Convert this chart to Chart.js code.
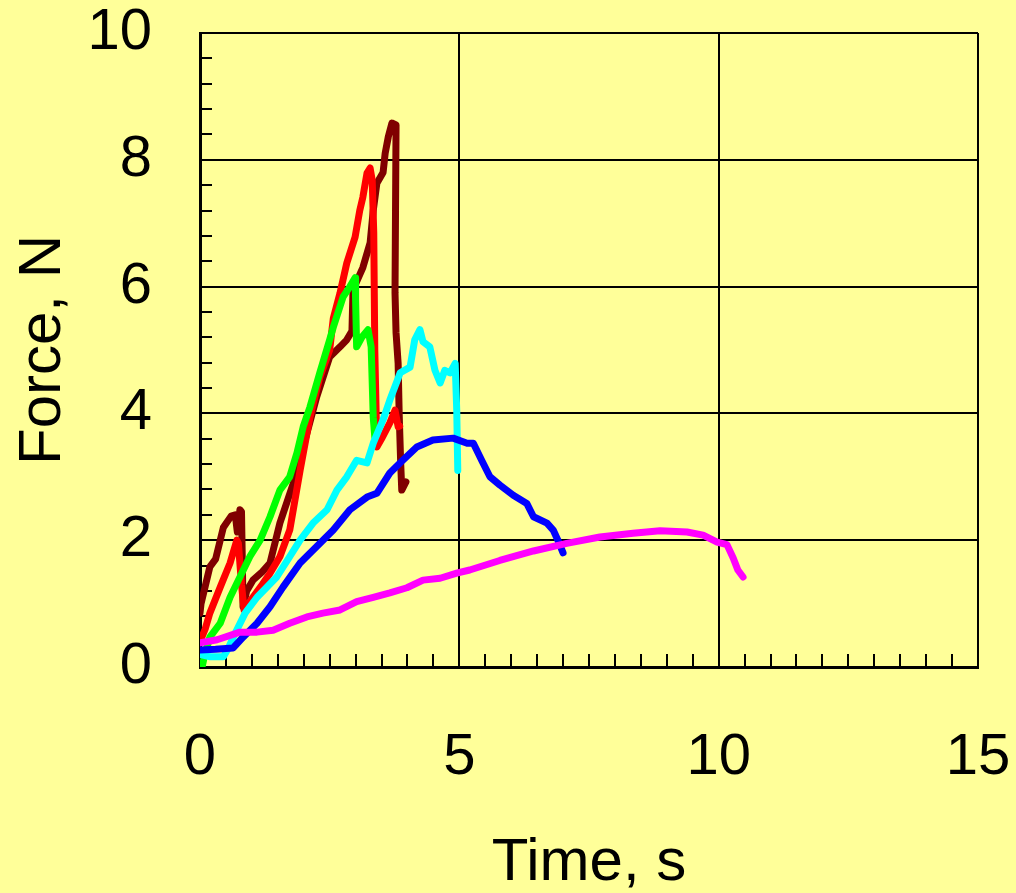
<!DOCTYPE html>
<html>
<head>
<meta charset="utf-8">
<script src="https://cdn.jsdelivr.net/npm/chart.js@4.4.1/dist/chart.umd.min.js"></script>
<style>
  html, body { margin: 0; padding: 0; background: #FFFF99; }
  #c { display: block; }
</style>
</head>
<body>
<canvas id="c" width="1016" height="893"></canvas>
<script>
// ---- Data ----
const xTickLabels = [0, 5, 10, 15];
const yTickLabels = [0, 2, 4, 6, 8, 10];

const brownTime  = [0, 0.02, 0.19, 0.3, 0.45, 0.6, 0.68, 0.72, 0.77, 0.8, 0.83, 0.9, 1.02, 1.2, 1.35, 1.54, 1.8, 1.99, 2.25, 2.5, 2.7, 2.83, 2.93, 2.95, 3.14, 3.28, 3.34, 3.41, 3.53, 3.57, 3.63, 3.7, 3.78, 3.76, 3.78, 3.82, 3.84, 3.87, 3.89, 3.97];
const brownForce = [0.85, 1.0, 1.58, 1.7, 2.2, 2.38, 2.4, 2.13, 2.48, 2.45, 0.95, 1.2, 1.37, 1.5, 1.64, 2.27, 2.9, 3.47, 4.26, 4.89, 5.05, 5.16, 5.3, 5.95, 6.3, 6.69, 7.2, 7.63, 7.8, 8.1, 8.36, 8.58, 8.55, 5.9, 5.27, 4.79, 4.0, 3.2, 2.79, 2.92];

const redTime  = [0, 0.1, 0.19, 0.39, 0.58, 0.71, 0.74, 0.8, 0.85, 1.02, 1.2, 1.35, 1.54, 1.73, 1.93, 2.12, 2.31, 2.5, 2.57, 2.7, 2.83, 2.99, 3.08, 3.14, 3.22, 3.28, 3.32, 3.35, 3.37, 3.41, 3.5, 3.66, 3.76, 3.82, 3.85];
const redForce = [0.4, 0.6, 0.85, 1.26, 1.64, 2.0, 1.95, 1.3, 0.9, 1.1, 1.3, 1.48, 1.74, 2.16, 3.1, 3.94, 4.57, 5.0, 5.5, 5.9, 6.37, 6.78, 7.2, 7.41, 7.79, 7.87, 7.68, 6.85, 5.0, 3.47, 3.6, 3.85, 4.05, 3.79, 3.8];

const greenTime  = [0.04, 0.08, 0.19, 0.39, 0.58, 0.77, 0.96, 1.16, 1.35, 1.54, 1.73, 1.87, 1.99, 2.12, 2.31, 2.5, 2.57, 2.76, 2.89, 2.99, 3.0, 3.02, 3.12, 3.24, 3.3, 3.34, 3.37];
const greenForce = [0.0, 0.15, 0.47, 0.69, 1.1, 1.42, 1.74, 2.0, 2.37, 2.79, 3.0, 3.38, 3.79, 4.1, 4.64, 5.16, 5.36, 5.84, 6.0, 6.14, 5.79, 5.05, 5.2, 5.32, 5.05, 3.94, 3.63];

const cyanTime  = [0, 0.2, 0.45, 0.55, 0.64, 0.87, 1.1, 1.48, 1.73, 1.93, 2.18, 2.45, 2.64, 2.83, 3.02, 3.22, 3.34, 3.53, 3.66, 3.86, 4.05, 4.14, 4.24, 4.3, 4.43, 4.53, 4.63, 4.72, 4.82, 4.92, 4.95, 4.97];
const cyanForce = [0.2, 0.16, 0.16, 0.3, 0.47, 0.85, 1.1, 1.42, 1.74, 2.0, 2.27, 2.48, 2.79, 3.0, 3.26, 3.22, 3.53, 3.9, 4.21, 4.64, 4.73, 5.16, 5.32, 5.13, 5.05, 4.68, 4.48, 4.68, 4.64, 4.79, 4.05, 3.1];

const blueTime  = [0, 0.3, 0.64, 0.83, 1.1, 1.35, 1.6, 1.93, 2.25, 2.57, 2.89, 3.22, 3.41, 3.66, 3.91, 4.18, 4.49, 4.88, 5.15, 5.27, 5.43, 5.59, 5.78, 6.04, 6.3, 6.43, 6.69, 6.81, 6.9, 7.0];
const blueForce = [0.27, 0.28, 0.3, 0.47, 0.69, 0.95, 1.26, 1.64, 1.9, 2.16, 2.48, 2.68, 2.74, 3.06, 3.26, 3.47, 3.58, 3.61, 3.53, 3.53, 3.26, 3.0, 2.87, 2.71, 2.58, 2.37, 2.27, 2.16, 2.0, 1.8];

const magentaTime  = [0, 0.33, 0.77, 1.1, 1.41, 1.73, 2.06, 2.37, 2.7, 3.02, 3.34, 3.66, 3.99, 4.3, 4.63, 4.95, 5.2, 5.78, 6.43, 7.07, 7.71, 8.35, 8.87, 9.39, 9.7, 9.97, 10.16, 10.28, 10.37, 10.47];
const magentaForce = [0.38, 0.43, 0.55, 0.55, 0.58, 0.69, 0.79, 0.85, 0.9, 1.03, 1.1, 1.17, 1.25, 1.37, 1.4, 1.48, 1.53, 1.68, 1.83, 1.95, 2.05, 2.11, 2.15, 2.13, 2.08, 1.97, 1.93, 1.72, 1.53, 1.42];

const minorXStep = 0.5;
const minorYStep = 0.4;

// ---- Build chart ----
const FONT = "'Liberation Sans', Arial, sans-serif";
function pts(t, f) { return t.map((v, i) => ({ x: v, y: f[i] })); }
function ds(t, f, color) {
  return {
    data: pts(t, f), borderColor: color, backgroundColor: color,
    borderWidth: 7, pointRadius: 0, showLine: true, tension: 0,
    borderJoinStyle: 'round', borderCapStyle: 'round', fill: false
  };
}

const minorTicks = {
  id: 'minorTicks',
  beforeDatasetsDraw(chart) {
    const { ctx, scales: { x, y }, chartArea } = chart;
    ctx.save();
    ctx.strokeStyle = '#000';
    ctx.lineWidth = 2;
    ctx.beginPath();
    for (let v = x.min + minorXStep; v < x.max - 1e-9; v += minorXStep) {
      const px = Math.round(x.getPixelForValue(v));
      ctx.moveTo(px, chartArea.bottom);
      ctx.lineTo(px, chartArea.bottom - 13);
    }
    for (let v = y.min + minorYStep; v < y.max - 1e-9; v += minorYStep) {
      const py = Math.round(y.getPixelForValue(v));
      ctx.moveTo(chartArea.left, py);
      ctx.lineTo(chartArea.left + 12, py);
    }
    ctx.stroke();
    ctx.restore();
  }
};

new Chart(document.getElementById('c'), {
  type: 'scatter',
  data: {
    datasets: [
      ds(magentaTime, magentaForce, '#FF00FF'),
      ds(blueTime, blueForce, '#0000FF'),
      ds(cyanTime, cyanForce, '#00FFFF'),
      ds(greenTime, greenForce, '#00FF00'),
      ds(redTime, redForce, '#FF0000'),
      ds(brownTime, brownForce, '#800000')
    ]
  },
  options: {
    responsive: false,
    animation: false,
    devicePixelRatio: 1,
    layout: { padding: { top: 33, right: 38, left: 0, bottom: 0 } },
    plugins: { legend: { display: false }, tooltip: { enabled: false } },
    scales: {
      x: {
        type: 'linear', min: 0, max: 15,
        afterBuildTicks(s) { s.ticks = xTickLabels.map(v => ({ value: v })); },
        ticks: { color: '#000', font: { family: FONT, size: 58, lineHeight: 1.0 }, padding: 62, maxRotation: 0, autoSkip: false },
        grid: { color: '#000', lineWidth: 2, drawTicks: false },
        border: { color: '#000', width: 3 },
        title: { display: true, text: 'Time, s', color: '#000', font: { family: FONT, size: 60, lineHeight: 1.0 }, padding: { top: 0, bottom: 0 } },
        afterFit(s) { s.height = 226; s.paddingLeft = 0; s.paddingRight = 0; }
      },
      y: {
        type: 'linear', min: 0, max: 10,
        afterBuildTicks(s) { s.ticks = yTickLabels.map(v => ({ value: v })); },
        ticks: { color: '#000', font: { family: FONT, size: 58, lineHeight: 1.0 }, padding: 48, autoSkip: false },
        grid: { color: '#000', lineWidth: 2, drawTicks: false },
        border: { color: '#000', width: 3 },
        title: { display: true, text: 'Force, N', color: '#000', font: { family: FONT, size: 60, lineHeight: 1.0 }, padding: { top: 13, bottom: 0 } },
        afterFit(s) { s.width = 200; s.paddingTop = 0; s.paddingBottom = 0; }
      }
    }
  },
  plugins: [minorTicks]
});
</script>
</body>
</html>
